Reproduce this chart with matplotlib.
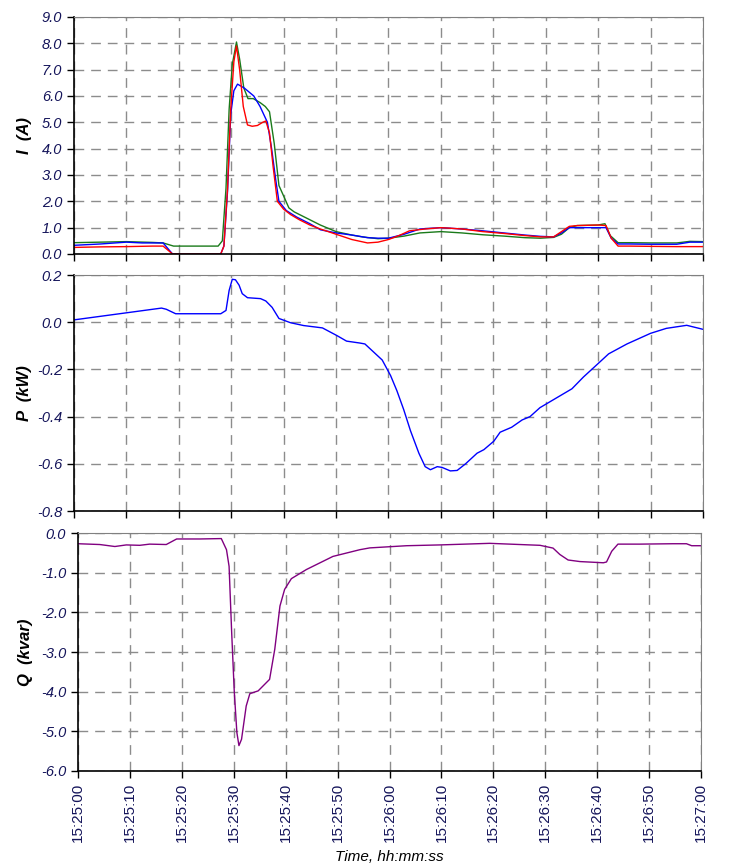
import matplotlib.pyplot as plt
from matplotlib.ticker import FormatStrFormatter

plt.rcParams['font.family'] = ['Liberation Sans', 'DejaVu Sans']

# time in seconds after 15:25:00
tick_secs = [0, 10, 20, 30, 40, 50, 60, 70, 80, 90, 100, 110, 120]
tick_labels = ['15:25:00', '15:25:10', '15:25:20', '15:25:30', '15:25:40', '15:25:50',
               '15:26:00', '15:26:10', '15:26:20', '15:26:30', '15:26:40', '15:26:50',
               '15:27:00']

# phase currents (A)
t_green = [0, 5, 10, 15, 17, 19, 27.5, 28.3, 29, 29.6, 30.2, 31, 31.6, 32.4, 33.2, 34.2,
           35.5, 36.5, 37.3, 38.2, 39.1, 40, 41, 42, 44, 47, 50, 53, 55, 58, 60, 63, 66,
           70, 74, 78, 82, 86, 89, 91.5, 93, 94.5, 96, 100, 101.3, 102.3, 103.8, 106, 110,
           115, 117.5, 120]
i_green = [0.43, 0.45, 0.47, 0.44, 0.42, 0.3, 0.3, 0.5, 2.5, 5.5, 7.2, 8.05, 7.4, 6.3, 5.9,
           5.9, 5.75, 5.6, 5.4, 4.2, 2.6, 2.2, 1.75, 1.6, 1.4, 1.1, 0.85, 0.72, 0.65, 0.58,
           0.6, 0.68, 0.8, 0.85, 0.8, 0.73, 0.68, 0.62, 0.6, 0.63, 0.75, 1.0, 1.08, 1.1,
           1.15, 0.7, 0.43, 0.43, 0.42, 0.42, 0.48, 0.47]

t_red = [0, 5, 10, 15, 17, 18.8, 28, 28.6, 29.3, 29.9, 30.5, 31, 31.6, 32.3, 33.1, 34, 35,
         36, 36.6, 37.3, 38, 38.8, 40, 41.3, 43, 45, 47, 50, 53, 56, 58, 60, 62, 64, 67, 70,
         74, 78, 82, 86, 89, 91.5, 93, 94.5, 96, 100, 101.5, 102.5, 103.8, 106, 110, 115, 120]
i_red = [0.25, 0.27, 0.28, 0.3, 0.3, 0.0, 0.0, 0.3, 2.5, 5.5, 7.3, 7.9, 7.0, 5.6, 4.9, 4.85,
         4.88, 5.0, 5.05, 4.6, 3.3, 2.0, 1.7, 1.5, 1.3, 1.1, 0.95, 0.75, 0.55, 0.42, 0.45,
         0.55, 0.7, 0.88, 0.95, 1.0, 0.95, 0.85, 0.78, 0.7, 0.65, 0.65, 0.85, 1.05, 1.08,
         1.1, 1.08, 0.6, 0.3, 0.3, 0.29, 0.28, 0.28]

t_blue = [0, 5, 10, 13, 15, 17, 18.8, 28, 28.6, 29.3, 29.9, 30.5, 31.2, 32.5, 34.3, 35.5,
          36.9, 37.7, 38.5, 39.1, 40.5, 42.5, 45, 47, 50, 53, 56, 58, 60, 63, 66, 70, 74, 78,
          82, 86, 89, 91.5, 93, 94.5, 96, 100, 101.5, 102.5, 103.8, 106, 110, 115, 117.5, 120]
i_blue = [0.33, 0.38, 0.45, 0.42, 0.42, 0.42, 0.0, 0.0, 0.3, 2.4, 5.3, 6.2, 6.45, 6.3, 6.0,
          5.6, 5.0, 4.0, 2.8, 2.0, 1.65, 1.4, 1.15, 0.92, 0.8, 0.72, 0.62, 0.6, 0.6, 0.75,
          0.95, 1.0, 0.95, 0.88, 0.8, 0.72, 0.67, 0.65, 0.8, 1.0, 1.0, 1.0, 1.0, 0.6, 0.38,
          0.38, 0.37, 0.37, 0.45, 0.45]

# active power (kW)
t_p = [0, 16.7, 17.6, 19.4, 28, 29, 29.6, 30.2, 30.8, 31.5, 32.1, 33.1, 35.6, 36.6, 37.8,
       39.1, 41.3, 43.8, 47.4, 50.2, 52, 54.5, 55.5, 57.2, 58.8, 60.4, 61.6, 62.9, 64.2,
       65.8, 67, 68, 69.3, 70.2, 71.8, 73.1, 74.7, 76.9, 78.2, 80.1, 81.3, 83.5, 85.5, 87,
       88.9, 92.1, 95, 97.2, 100, 102, 105.5, 110, 113, 116.9, 120]
p_kw = [0.01, 0.06, 0.055, 0.036, 0.036, 0.05, 0.135, 0.182, 0.18, 0.157, 0.121, 0.104,
        0.1, 0.09, 0.063, 0.016, -0.002, -0.014, -0.024, -0.057, -0.08, -0.088, -0.092,
        -0.127, -0.16, -0.226, -0.29, -0.37, -0.46, -0.555, -0.612, -0.625, -0.612, -0.615,
        -0.63, -0.628, -0.6, -0.555, -0.54, -0.504, -0.466, -0.445, -0.414, -0.4, -0.362,
        -0.32, -0.282, -0.232, -0.175, -0.134, -0.092, -0.047, -0.026, -0.013, -0.03]

# reactive power (kvar)
t_q = [0, 4.2, 7.1, 9.3, 11.9, 13.8, 17, 19, 23.5, 27.6, 28.6, 29.1, 29.6, 30.1, 30.6, 31,
       31.5, 32.4, 33.1, 34.7, 36.9, 37.9, 38.9, 39.8, 41.1, 44, 49.1, 54.3, 56.2, 63.3,
       69.7, 79.3, 89, 91.5, 92.8, 94.4, 96.7, 101.2, 101.8, 102.8, 104, 108.2, 114.6,
       117.2, 118.2, 120]
q_kvar = [-0.27, -0.29, -0.34, -0.3, -0.31, -0.28, -0.29, -0.15, -0.15, -0.14, -0.42, -0.84,
          -2.51, -4.0, -5.03, -5.36, -5.2, -4.36, -4.05, -3.98, -3.69, -2.93, -1.84, -1.42,
          -1.15, -0.92, -0.59, -0.42, -0.375, -0.32, -0.3, -0.26, -0.31, -0.38, -0.54, -0.68,
          -0.72, -0.75, -0.73, -0.46, -0.28, -0.28, -0.27, -0.27, -0.32, -0.32]

navy = '#14145a'
fig = plt.figure(figsize=(7.29, 8.66), dpi=100)
ax1 = fig.add_axes([0.1015, 0.7067, 0.8628, 0.2737])
ax2 = fig.add_axes([0.1015, 0.4099, 0.8628, 0.2725])
ax3 = fig.add_axes([0.107, 0.1097, 0.8546, 0.2748])

ax1.plot(t_green, i_green, color='#1a7a1a', lw=1.0)
ax1.plot(t_blue, i_blue, color='#0000ff', lw=1.0)
ax1.plot(t_red, i_red, color='#ff0000', lw=1.0)
ax2.plot(t_p, p_kw, color='#0000ff', lw=1.0)
ax3.plot(t_q, q_kvar, color='#800080', lw=1.0)

ax1.set_ylim(0, 9)
ax1.set_yticks([0, 1, 2, 3, 4, 5, 6, 7, 8, 9])
ax2.set_ylim(-0.8, 0.2)
ax2.set_yticks([-0.8, -0.6, -0.4, -0.2, 0.0, 0.2])
ax3.set_ylim(-6, 0)
ax3.set_yticks([-6, -5, -4, -3, -2, -1, 0])

for ax in (ax1, ax2, ax3):
    ax.set_xlim(0, 120)
    ax.set_xticks(tick_secs)
    ax.grid(True, color='#8c8c8c', linestyle=(0, (7, 5)), lw=1.0)
    ax.yaxis.set_major_formatter(FormatStrFormatter('%.1f'))
    ax.tick_params(direction='out', length=5, width=1, colors='black', labelcolor=navy,
                   labelsize=10.5)
    for lab in ax.get_yticklabels():
        lab.set_fontstyle('italic')
    ax.spines['left'].set_color('black')
    ax.spines['bottom'].set_color('black')
    ax.spines['top'].set_color('#808080')
    ax.spines['right'].set_color('#808080')
    ax.spines['left'].set_linewidth(1.2)
    ax.spines['bottom'].set_linewidth(1.2)

ax1.set_xticklabels([])
ax2.set_xticklabels([])
ax3.set_xticklabels(tick_labels, rotation=90, fontsize=11)

ax1.set_ylabel('I  (A)', fontsize=12, fontweight='bold', fontstyle='italic')
ax2.set_ylabel('P  (kW)', fontsize=12, fontweight='bold', fontstyle='italic')
ax3.set_ylabel('Q  (kvar)', fontsize=12, fontweight='bold', fontstyle='italic')
ax1.yaxis.set_label_coords(-0.066, 0.5)
ax2.yaxis.set_label_coords(-0.066, 0.5)
ax3.yaxis.set_label_coords(-0.073, 0.5)
ax3.set_xlabel('Time, hh:mm:ss', fontsize=11, fontstyle='italic', labelpad=6)

fig.savefig('out.png', dpi=100)
